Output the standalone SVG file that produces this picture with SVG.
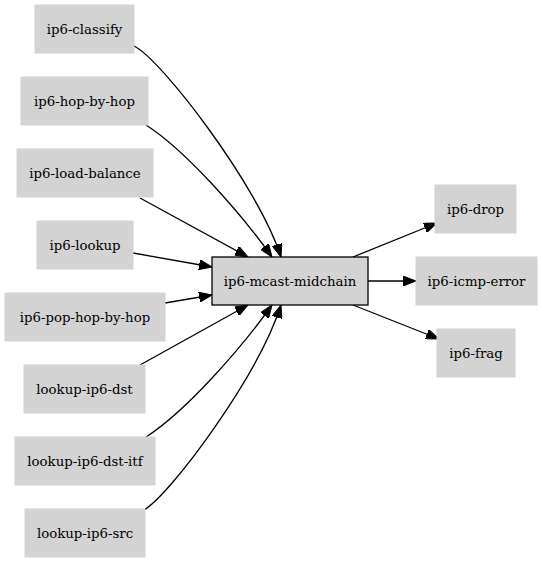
<svg xmlns="http://www.w3.org/2000/svg" width="541" height="563" viewBox="0 0 541 563">
<style>
.n rect{fill:#d3d3d3;stroke:#d3d3d3;stroke-width:1}
.c rect{fill:#d3d3d3;stroke:#000;stroke-width:1.3}
text{font-family:"DejaVu Serif","Liberation Serif",serif;font-size:13.3px;fill:#000;text-anchor:middle}
.e path{fill:none;stroke:#000;stroke-width:1.3;marker-end:url(#ah)}
</style>
<defs>
<marker id="ah" markerUnits="userSpaceOnUse" markerWidth="14" markerHeight="10" refX="13" refY="5" orient="auto" viewBox="0 0 14 10">
<path d="M0,0 L13,5 L0,10 z" fill="#000" stroke="#000" stroke-width="1"/>
</marker>
</defs>
<rect width="541" height="563" fill="#fff"/>
<g id="edges" class="e">
<path d="M134,46 C160,58 258,185 281,257"/>
<path d="M146,125 C185,150 240,212 272,257"/>
<path d="M140,198 L248,257"/>
<path d="M133,253 L212,267"/>
<path d="M165,303 L212,295"/>
<path d="M140,365 L248,305"/>
<path d="M146,437 C185,412 240,350 272,305"/>
<path d="M144,510 C170,495 258,377 281,305"/>
<path d="M353,257 L437,223"/>
<path d="M368,281 L416,281"/>
<path d="M353,305 L439,339"/>
</g>
<g id="ip6-classify" class="n"><rect x="35" y="5" width="99" height="48"/><text x="84.5" y="33.5">ip6-classify</text></g>
<g id="ip6-hop-by-hop" class="n"><rect x="21" y="77" width="127" height="48"/><text x="84.5" y="105.5">ip6-hop-by-hop</text></g>
<g id="ip6-load-balance" class="n"><rect x="17" y="149" width="136" height="48"/><text x="85" y="177.5">ip6-load-balance</text></g>
<g id="ip6-lookup" class="n"><rect x="37" y="221" width="96" height="48"/><text x="85" y="249.5">ip6-lookup</text></g>
<g id="ip6-pop-hop-by-hop" class="n"><rect x="5" y="293" width="160" height="48"/><text x="85" y="321.5">ip6-pop-hop-by-hop</text></g>
<g id="lookup-ip6-dst" class="n"><rect x="24" y="365" width="121" height="48"/><text x="84.5" y="393.5">lookup-ip6-dst</text></g>
<g id="lookup-ip6-dst-itf" class="n"><rect x="15" y="437" width="140" height="48"/><text x="85" y="465.5">lookup-ip6-dst-itf</text></g>
<g id="lookup-ip6-src" class="n"><rect x="25" y="509" width="120" height="48"/><text x="85" y="537.5">lookup-ip6-src</text></g>
<g id="ip6-mcast-midchain" class="c"><rect x="212" y="257" width="156" height="48"/><text x="290" y="285.5">ip6-mcast-midchain</text></g>
<g id="ip6-drop" class="n"><rect x="435" y="185" width="81" height="48"/><text x="475.5" y="213.5">ip6-drop</text></g>
<g id="ip6-icmp-error" class="n"><rect x="416" y="257" width="121" height="48"/><text x="476.5" y="285.5">ip6-icmp-error</text></g>
<g id="ip6-frag" class="n"><rect x="437" y="329" width="78" height="48"/><text x="476" y="357.5">ip6-frag</text></g>
</svg>
